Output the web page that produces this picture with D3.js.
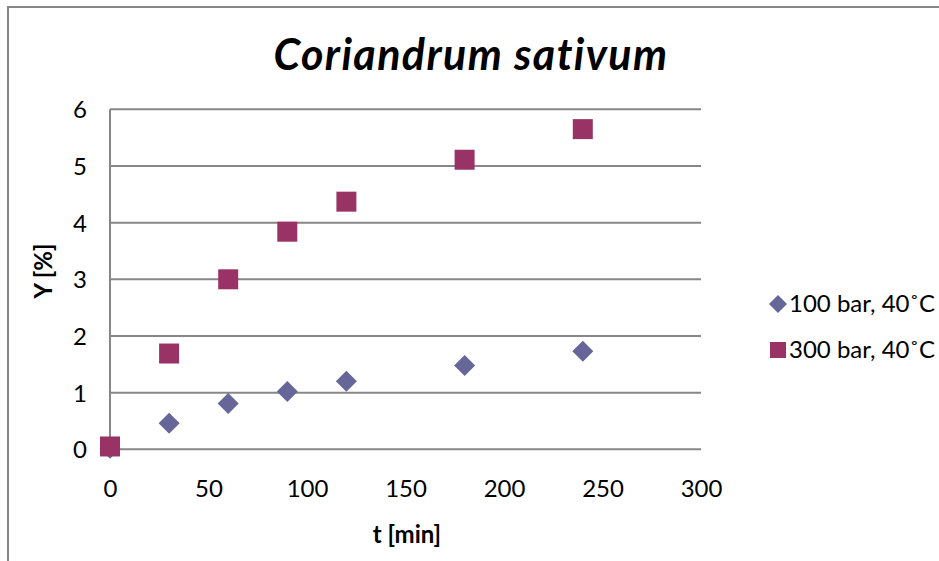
<!DOCTYPE html>
<html>
<head>
<meta charset="utf-8">
<script src="https://cdn.jsdelivr.net/npm/d3@7"></script>
<style>
  html, body { margin: 0; padding: 0; background: #fff; }
  svg { display: block; font-family: Lato, "Open Sans", sans-serif; }
</style>
</head>
<body>
<svg id="chart" width="939" height="561"></svg>
<script>
// Extraction time (min)
const times = [0, 30, 60, 90, 120, 180, 240];
// Yield (%) at 100 bar, 40 °C
const yield100 = [0.02, 0.46, 0.81, 1.02, 1.2, 1.48, 1.73];
// Yield (%) at 300 bar, 40 °C
const yield300 = [0.05, 1.69, 3.0, 3.84, 4.37, 5.11, 5.65];

const xTicks = [0, 50, 100, 150, 200, 250, 300];
const yTicks = [0, 1, 2, 3, 4, 5, 6];

const seriesNames = ["100 bar, 40˚C", "300 bar, 40˚C"];
const seriesColors = ["#666699", "#993366"];

const svg = d3.select("#chart");
const W = 939, H = 561;

// d3 symbol area for a diamond of given full diagonal / a square of given side
const diamondArea = diag => Math.pow(diag / 2 / 0.62625, 2);
const squareArea = side => Math.pow(side / 2 / 0.4431, 2);

// Chart-area frame (open on the right and bottom edges)
svg.append("path")
  .attr("d", `M8,${H} L8,7 L${W},7`)
  .attr("fill", "none")
  .attr("stroke", "#858585")
  .attr("stroke-width", 2);

const plot = { left: 110, right: 701, top: 109.3, bottom: 449.3 };

const x = d3.scaleLinear().domain([0, 300]).range([plot.left, plot.right]);
const y = d3.scaleLinear().domain([0, 6]).range([plot.bottom, plot.top]);

// Horizontal gridlines
svg.append("g")
  .selectAll("line")
  .data(yTicks)
  .join("line")
  .attr("x1", plot.left).attr("x2", plot.right)
  .attr("y1", d => y(d)).attr("y2", d => y(d))
  .attr("stroke", "#878787")
  .attr("stroke-width", 2);

// Y axis line
svg.append("line")
  .attr("x1", plot.left).attr("x2", plot.left)
  .attr("y1", plot.top).attr("y2", plot.bottom)
  .attr("stroke", "#878787")
  .attr("stroke-width", 2);

// Y axis tick labels
const yAxis = d3.axisLeft(y).tickValues(yTicks).tickFormat(d3.format("d")).tickSize(0).tickPadding(0);
const gy = svg.append("g").attr("transform", `translate(${plot.left - 23},0)`).call(yAxis);
gy.select(".domain").remove();
gy.selectAll("text")
  .attr("font-family", "Lato, 'Open Sans', sans-serif")
  .attr("font-size", 24)
  .attr("fill", "#000")
  .attr("dy", "0.35em");

// X axis tick labels
const xAxis = d3.axisBottom(x).tickValues(xTicks).tickFormat(d3.format("d")).tickSize(0).tickPadding(0);
const gx = svg.append("g").attr("transform", `translate(0,${plot.bottom + 48})`).call(xAxis);
gx.select(".domain").remove();
gx.selectAll("text")
  .attr("font-family", "Lato, 'Open Sans', sans-serif")
  .attr("font-size", 24)
  .attr("fill", "#000")
  .attr("dy", 0);

// Title
svg.append("text")
  .attr("x", 471).attr("y", 70)
  .attr("text-anchor", "middle")
  .attr("font-size", 43)
  .attr("letter-spacing", 1.4)
  .attr("font-weight", "bold")
  .attr("font-style", "italic")
  .attr("fill", "#000")
  .text("Coriandrum sativum");

// Axis titles
svg.append("text")
  .attr("x", 407).attr("y", 543)
  .attr("text-anchor", "middle")
  .attr("font-size", 24)
  .attr("font-weight", "bold")
  .attr("fill", "#000")
  .text("t [min]");

svg.append("text")
  .attr("transform", "translate(52,271) rotate(-90)")
  .attr("text-anchor", "middle")
  .attr("font-size", 24)
  .attr("font-weight", "bold")
  .attr("fill", "#000")
  .text("Y [%]");

// Markers
const pts100 = times.map((t, i) => ({ t, v: yield100[i] }));
const pts300 = times.map((t, i) => ({ t, v: yield300[i] }));

svg.append("g")
  .selectAll("path")
  .data(pts100)
  .join("path")
  .attr("transform", d => `translate(${x(d.t)},${y(d.v)})`)
  .attr("d", d3.symbol().type(d3.symbolDiamond2).size(diamondArea(21))())
  .attr("fill", seriesColors[0]);

svg.append("g")
  .selectAll("path")
  .data(pts300)
  .join("path")
  .attr("transform", d => `translate(${x(d.t)},${y(d.v)})`)
  .attr("d", d3.symbol().type(d3.symbolSquare2).size(squareArea(20))())
  .attr("fill", seriesColors[1]);

// Legend
const legend = svg.append("g");
const legendRows = [
  { name: seriesNames[0], color: seriesColors[0], sym: d3.symbol().type(d3.symbolDiamond2).size(diamondArea(18))(), y: 304 },
  { name: seriesNames[1], color: seriesColors[1], sym: d3.symbol().type(d3.symbolSquare2).size(squareArea(16))(), y: 350 }
];
legendRows.forEach(r => {
  legend.append("path")
    .attr("transform", `translate(778,${r.y})`)
    .attr("d", r.sym)
    .attr("fill", r.color);
  legend.append("text")
    .attr("x", 789).attr("y", r.y + 8)
    .attr("font-size", 24)
    .attr("fill", "#000")
    .text(r.name);
});
</script>
</body>
</html>
